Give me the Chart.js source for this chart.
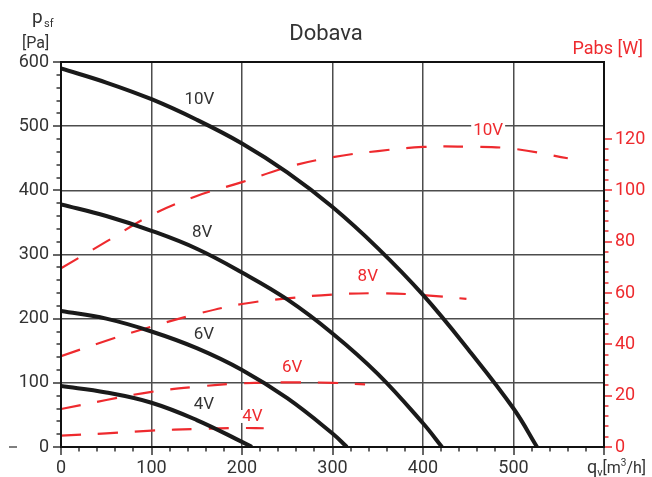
<!DOCTYPE html>
<html><head><meta charset="utf-8">
<script src="https://cdn.jsdelivr.net/npm/chart.js@4.4.1/dist/chart.umd.min.js"></script>
<style>html,body{margin:0;padding:0;background:#fff;}canvas{display:block;}</style>
</head><body>
<canvas id="c" width="652" height="477"></canvas>
<script>
// ---- data ----
const flow10 = [0, 50, 100, 150, 200, 250, 300, 350, 400, 450, 500, 526];
const psf10  = [590, 568, 542, 510, 473, 428, 374, 310, 237, 152, 60, 0];
const flow8  = [0, 50, 100, 150, 200, 250, 300, 350, 400, 421];
const psf8   = [378, 360, 337, 309, 272, 230, 177, 114, 37, 0];
const flow6  = [0, 50, 100, 150, 200, 250, 300, 316];
const psf6   = [212, 200, 180, 154, 120, 76, 21, 0];
const flow4  = [0, 50, 100, 150, 200, 211];
const psf4   = [95, 85, 69, 42, 8, 0];

const pflow10 = [0, 50, 100, 150, 200, 250, 300, 350, 400, 450, 500, 560];
const pabs10  = [69.6, 80, 90.4, 97.8, 103.2, 109, 112.9, 115.3, 116.9, 117, 116.2, 112.5];
const pflow8  = [0, 50, 100, 150, 200, 250, 300, 350, 400, 448];
const pabs8   = [35.4, 41.4, 46.9, 51.8, 55.7, 57.9, 59.4, 59.9, 59.2, 57.7];
const pflow6  = [0, 50, 100, 150, 200, 250, 300, 336];
const pabs6   = [14.8, 18.3, 21.5, 23.5, 24.8, 25.2, 25.0, 24.4];
const pflow4  = [0, 50, 100, 150, 200, 224];
const pabs4   = [4.4, 5.3, 6.4, 7.0, 7.4, 7.3];

const xTickValues = [0, 100, 200, 300, 400, 500];
const yTickValues = [0, 100, 200, 300, 400, 500, 600];
const y2TickValues = [0, 20, 40, 60, 80, 100, 120];
const speedNames = ["10V", "8V", "6V", "4V"];

// ---- styling ----
const FONT = "Roboto, 'Liberation Sans', sans-serif";
const TXT = '#333333';
const RED = '#ee2a2e';
const BLK = '#1a1a1a';

function pts(xs, ys) { return xs.map((x, i) => ({ x: x, y: ys[i] })); }

const curves = [[flow10, psf10], [flow8, psf8], [flow6, psf6], [flow4, psf4]];
const powers = [[pflow10, pabs10], [pflow8, pabs8], [pflow6, pabs6], [pflow4, pabs4]];

const datasets = [];
curves.forEach((c, i) => datasets.push({
  label: 'psf ' + speedNames[i], data: pts(c[0], c[1]), yAxisID: 'y',
  borderColor: BLK, borderWidth: 4, pointRadius: 0, fill: false,
  tension: 0.4, borderCapStyle: 'butt'
}));
powers.forEach((c, i) => datasets.push({
  label: 'Pabs ' + speedNames[i], data: pts(c[0], c[1]), yAxisID: 'y2',
  borderColor: RED, borderWidth: 2.2, pointRadius: 0, fill: false,
  borderDash: [20, 17], tension: 0.4, borderCapStyle: 'butt'
}));

// label anchors in data units
const blackLabelPos = [[153, 541], [156, 334], [158, 175], [158, 66]];
const redLabelPos = [[472, 123.3], [339, 66.4], [255.5, 30.8], [211.5, 11.7]];

const gridColor = (lo, hi) => (ctx) => {
  const v = ctx.tick && ctx.tick.value;
  return (v > lo && v < hi) ? '#4d4d4d' : 'rgba(0,0,0,0)';
};

const decor = {
  id: 'decor',
  afterDatasetsDraw(chart) {
    const ctx = chart.ctx, xs = chart.scales.x, ys = chart.scales.y, y2 = chart.scales.y2;
    ctx.save();
    ctx.textAlign = 'center'; ctx.textBaseline = 'middle';
    ctx.font = '17px ' + FONT;
    speedNames.forEach((n, i) => {
      ctx.fillStyle = TXT;
      ctx.fillText(n, xs.getPixelForValue(blackLabelPos[i][0]), ys.getPixelForValue(blackLabelPos[i][1]));
    });
    speedNames.forEach((n, i) => {
      const x = xs.getPixelForValue(redLabelPos[i][0]), y = y2.getPixelForValue(redLabelPos[i][1]);
      const w = ctx.measureText(n).width;
      ctx.fillStyle = '#fff';
      ctx.fillRect(x - w / 2 - 2, y - 7, w + 4, 13);
      ctx.fillStyle = RED;
      ctx.fillText(n, x, y);
    });
    ctx.restore();
  },
  afterDraw(chart) {
    const ctx = chart.ctx, a = chart.chartArea;
    const xs = chart.scales.x, ys = chart.scales.y, y2 = chart.scales.y2;
    ctx.save();
    // ticks
    ctx.lineWidth = 1.5;
    ctx.strokeStyle = TXT;
    for (let v = 0; v <= 600; v += 20) {
      const len = v % 100 === 0 ? 8 : 4.5;
      const py = Math.round(ys.getPixelForValue(v));
      ctx.beginPath(); ctx.moveTo(a.left - len, py); ctx.lineTo(a.left, py); ctx.stroke();
      const px = Math.round(xs.getPixelForValue(v));
      ctx.beginPath(); ctx.moveTo(px, a.bottom); ctx.lineTo(px, a.bottom + len); ctx.stroke();
    }
    ctx.strokeStyle = RED;
    for (let v = 0; v <= 120; v += 4) {
      const len = v % 20 === 0 ? 8 : 4.5;
      const py = Math.round(y2.getPixelForValue(v));
      ctx.beginPath(); ctx.moveTo(a.right, py); ctx.lineTo(a.right + len, py); ctx.stroke();
    }
    // frame
    ctx.strokeStyle = '#111';
    ctx.lineWidth = 2;
    ctx.strokeRect(a.left, a.top, a.right - a.left, a.bottom - a.top);
    // axis titles
    ctx.textBaseline = 'alphabetic'; ctx.textAlign = 'left';
    ctx.fillStyle = TXT;
    ctx.font = '19px ' + FONT; ctx.fillText('p', 32, 23);
    ctx.font = '11px ' + FONT; ctx.fillText('sf', 44, 27);
    ctx.font = '16px ' + FONT; ctx.fillText('[Pa]', 22, 47.5);
    // small dash at lower left
    ctx.strokeStyle = '#555'; ctx.lineWidth = 1.5;
    ctx.beginPath(); ctx.moveTo(9, 447); ctx.lineTo(17, 447); ctx.stroke();
    // x title q_v[m3/h]
    ctx.textAlign = 'left'; ctx.textBaseline = 'alphabetic'; ctx.fillStyle = TXT;
    let x = 587; const base = 473;
    ctx.font = '18px ' + FONT; ctx.fillText('q', x, base); x += ctx.measureText('q').width;
    ctx.font = '11px ' + FONT; ctx.fillText('v', x, base + 3); x += ctx.measureText('v').width;
    ctx.font = '16px ' + FONT; ctx.fillText('[m', x, base); x += ctx.measureText('[m').width;
    ctx.font = '10px ' + FONT; ctx.fillText('3', x, base - 7); x += ctx.measureText('3').width;
    ctx.font = '16px ' + FONT; ctx.fillText('/h]', x, base);
    // right title
    ctx.fillStyle = RED; ctx.textAlign = 'right';
    ctx.font = '18px ' + FONT; ctx.fillText('Pabs [W]', 643, 54);
    ctx.restore();
  }
};

new Chart(document.getElementById('c'), {
  type: 'line',
  data: { datasets: datasets },
  options: {
    responsive: false, animation: false,
    layout: { padding: 0 },
    plugins: {
      legend: { display: false }, tooltip: { enabled: false },
      title: { display: true, text: 'Dobava', color: TXT,
        font: { family: FONT, size: 22, weight: 'normal', lineHeight: 1 },
        padding: { top: 23, bottom: 17 } }
    },
    scales: {
      x: { type: 'linear', position: 'bottom', min: 0, max: 600,
        afterBuildTicks: s => { s.ticks = xTickValues.map(v => ({ value: v })); },
        ticks: { autoSkip: false, maxRotation: 0, color: TXT, padding: 11, font: { family: FONT, size: 18 } },
        grid: { drawTicks: false, color: gridColor(0, 600), lineWidth: 1.5 },
        border: { display: false },
        afterFit: s => { s.height = 30; } },
      y: { type: 'linear', position: 'left', min: 0, max: 600,
        afterBuildTicks: s => { s.ticks = yTickValues.map(v => ({ value: v })); },
        ticks: { autoSkip: false, color: TXT, padding: 12, font: { family: FONT, size: 18 } },
        grid: { drawTicks: false, color: gridColor(0, 600), lineWidth: 1.5 },
        border: { display: false },
        afterFit: s => { s.width = 61; } },
      y2: { type: 'linear', position: 'right', min: 0, max: 150,
        afterBuildTicks: s => { s.ticks = y2TickValues.map(v => ({ value: v })); },
        ticks: { autoSkip: false, color: RED, padding: 11, font: { family: FONT, size: 18 } },
        grid: { display: false, drawTicks: false },
        border: { display: false },
        afterFit: s => { s.width = 48; } }
    }
  },
  plugins: [decor]
});
</script>
</body></html>
